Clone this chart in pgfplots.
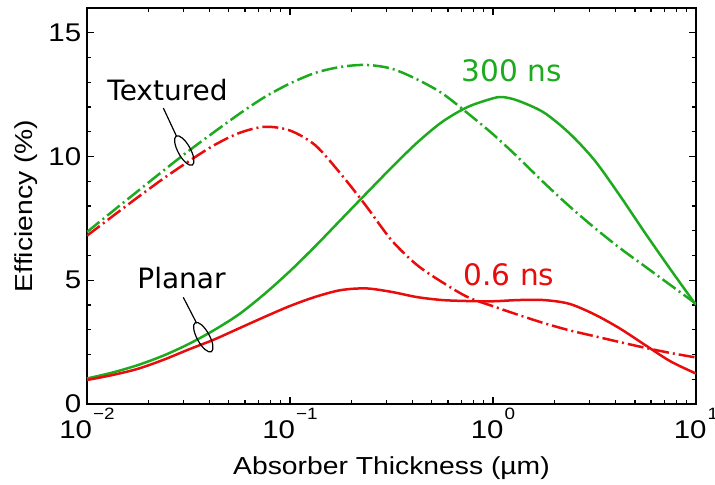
\documentclass[border=0pt]{standalone}
\usepackage{fontspec}
\setmainfont{Liberation Sans}[FakeStretch=1.15]
\newfontfamily\annfont{DejaVu Sans}
\usepackage{pgfplots}
\pgfplotsset{compat=1.18}
\usetikzlibrary{shapes.geometric}

\definecolor{cgreen}{RGB}{30,170,30}
\definecolor{cred}{RGB}{232,12,12}

% power-of-ten tick label in the text font
\newcommand{\tenexp}[1]{10\kern0.6pt\raisebox{9.4pt}{\fontsize{8.2}{9}\selectfont #1}}

% textured, 300 ns
\pgfplotstableread{
x y
0.01     6.95
0.01334  7.78
0.01778  8.60
0.02371  9.42
0.03162  10.22
0.04217  10.98
0.05623  11.72
0.07499  12.40
0.1      12.95
0.1334   13.38
0.1778   13.62
0.2371   13.70
0.3162   13.55
0.4217   13.12
0.5623   12.55
0.7499   11.75
1.0      10.90
1.334    9.95
1.778    8.95
2.371    8.00
3.162    7.12
4.217    6.30
5.623    5.55
7.499    4.80
10.0     4.05
}\texturedlong

% textured, 0.6 ns
\pgfplotstableread{
x y
0.01     6.80
0.01334  7.58
0.01778  8.35
0.02371  9.10
0.03162  9.80
0.04217  10.45
0.05623  10.95
0.07499  11.20
0.1      11.05
0.1334   10.45
0.1778   9.30
0.2371   8.00
0.3162   6.62
0.4217   5.62
0.5623   4.92
0.7499   4.32
1.0      3.95
1.334    3.60
1.778    3.27
2.371    2.98
3.162    2.74
4.217    2.50
5.623    2.27
7.499    2.06
10.0     1.88
}\texturedshort

% planar, 300 ns
\pgfplotstableread{
x y
0.01     1.03
0.01334  1.27
0.01778  1.57
0.02371  1.95
0.03162  2.42
0.04217  2.98
0.05623  3.63
0.07499  4.45
0.1      5.37
0.1334   6.38
0.1778   7.44
0.2371   8.50
0.3162   9.55
0.4217   10.55
0.5623   11.40
0.7499   12.00
1.0      12.35
1.122    12.40
1.334    12.25
1.778    11.78
2.371    10.95
3.162    9.85
4.217    8.42
5.623    6.90
7.499    5.43
10.0     4.00
}\planarlong

% planar, 0.6 ns
\pgfplotstableread{
x y
0.01     0.97
0.01334  1.17
0.01778  1.42
0.02371  1.78
0.03162  2.20
0.04217  2.60
0.05623  3.06
0.07499  3.52
0.1      3.96
0.1334   4.33
0.1778   4.60
0.2371   4.67
0.3162   4.53
0.4217   4.32
0.5623   4.20
0.7499   4.16
1.0      4.15
1.334    4.20
1.778    4.20
2.371    4.05
3.162    3.62
4.217    3.05
5.623    2.38
7.499    1.72
10.0     1.23
}\planarshort

\begin{document}
\begin{tikzpicture}
\begin{axis}[
  name=ax,
  scale only axis, width=304.5pt, height=198pt,
  xmode=log, xmin=0.01, xmax=10, ymin=0, ymax=16,
  xtick={0.01,0.1,1,10},
  xticklabels={\tenexp{−2},\tenexp{−1},\tenexp{0},\tenexp{1}},
  ytick={0,5,10,15}, minor y tick num=4,
  /pgf/number format/assume math mode=true,
  yticklabel={\pgfmathprintnumber{\tick}},
  tick align=inside, major tick length=3.5pt, minor tick length=2pt,
  every tick/.style={black, line width=0.6pt},
  axis line style={line width=0.9pt},
  tick label style={font=\fontsize{12.8}{14}\selectfont, inner sep=0pt},
  xticklabel style={anchor=north, yshift=-2pt},
  yticklabel style={anchor=east, xshift=-2.7pt},
  xlabel={Absorber Thickness (µm)}, ylabel={Efficiency (\%)},
  label style={font=\fontsize{12.3}{14}\selectfont},
  xlabel style={at={(axis description cs:0.5,-0.1768)}, anchor=base},
  ylabel style={at={(axis description cs:-0.0887,0.5)}, anchor=base},
  every axis plot/.append style={line width=1.25pt, smooth, tension=0.5},
]
\addplot[cgreen, dash pattern=on 8pt off 2pt on 1pt off 2pt] table[x=x,y=y] {\texturedlong};
\addplot[cred, dash pattern=on 8pt off 2pt on 1pt off 2pt] table[x=x,y=y] {\texturedshort};
\addplot[cgreen] table[x=x,y=y] {\planarlong};
\addplot[cred] table[x=x,y=y] {\planarshort};

% annotations
\node[anchor=base, font=\annfont\fontsize{14}{16}\selectfont] at (axis cs:0.02493,12.25) {Textured};
\node[anchor=base, font=\annfont\fontsize{14}{16}\selectfont] at (axis cs:0.02921,4.65) {Planar};
\node[anchor=base, text=cgreen, font=\annfont\fontsize{14.8}{16}\selectfont] at (axis cs:1.233,13.03) {300 ns};
\node[anchor=base, text=cred, font=\annfont\fontsize{14.8}{16}\selectfont] at (axis cs:1.199,4.78) {0.6 ns};

\draw[black, line width=0.6pt] (axis cs:0.02377,11.96) -- (axis cs:0.02763,10.81);
\node[draw=black, line width=0.6pt, ellipse, inner sep=0pt, minimum width=6.2pt, minimum height=16.6pt, rotate=29] at (axis cs:0.03015,10.24) {};
\draw[black, line width=0.6pt] (axis cs:0.02981,4.31) -- (axis cs:0.03470,3.26);
\node[draw=black, line width=0.6pt, ellipse, inner sep=0pt, minimum width=6.2pt, minimum height=16.6pt, rotate=29] at (axis cs:0.03741,2.70) {};
\end{axis}
\pgfresetboundingbox
\path[use as bounding box] ([shift={(-43.5pt,-40.5pt)}]ax.south west) rectangle ([shift={(9.5pt,4pt)}]ax.north east);
\end{tikzpicture}
\end{document}
